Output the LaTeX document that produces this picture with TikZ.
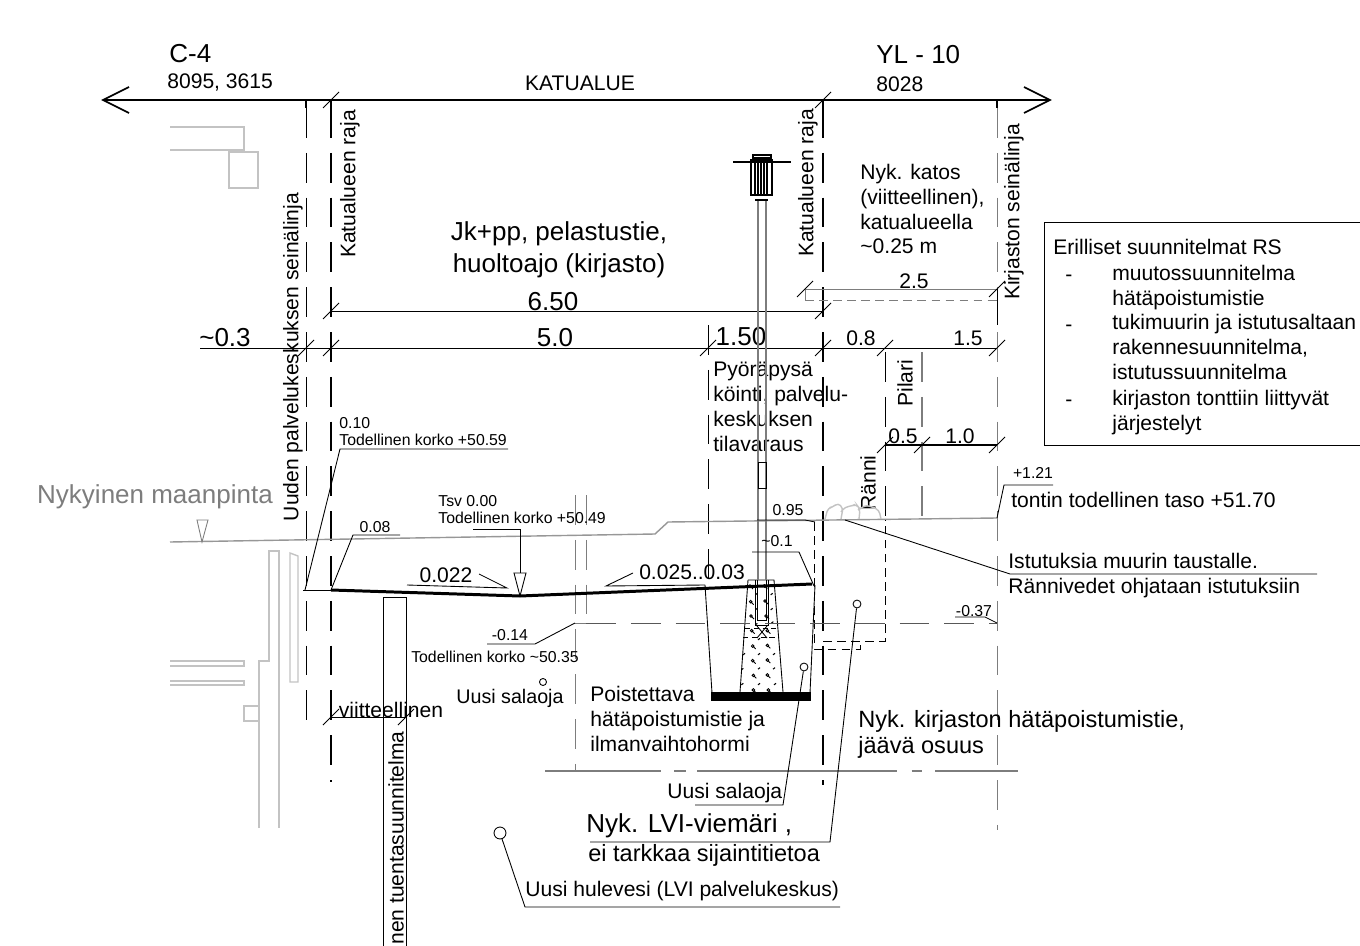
\documentclass[tikz,border=0pt]{standalone}
\usepackage{fontspec}
\setmainfont{Liberation Sans}
\definecolor{pale}{RGB}{195,195,195}
\definecolor{midgrey}{RGB}{125,125,125}
\tikzset{
	smalltxt/.style={inner sep=0pt, font=\fontsize{9}{10}\selectfont},
	medtxt/.style={inner sep=0pt, align=left, font=\fontsize{12}{14.2}\selectfont},
	bigtxt/.style={inner sep=0pt, align=left, font=\fontsize{14.8}{18.2}\selectfont},
	laneline/.style={line width=1.1pt, dash pattern=on 17pt off 8.5pt},
	wallline/.style={line width=0.55pt, dash pattern=on 17pt off 8.5pt},
	hidden/.style={line width=0.5pt, dash pattern=on 5pt off 3pt},
	dimline/.style={line width=0.5pt},
	ticks/.style={line width=0.5pt},
	ghost/.style={line width=0.8pt, draw=pale},
	ringnode/.style={circle, draw, fill=white, line width=0.5pt, inner sep=0pt}
}
\begin{document}
\begin{tikzpicture}[x=0.02cm, y=-0.02cm]
	\useasboundingbox (0,0) rectangle (1360,946);

	% old structures, left side
	\draw[ghost] (170,127) -- (244,127) -- (244,150) -- (170,150);
	\draw[ghost] (229,152) rectangle (258,188);
	\draw[ghost] (259,828) -- (259,661) -- (269,661) -- (269,551) -- (279,551) -- (279,828);
	\draw[ghost] (290,553) -- (298,556) -- (298,682) -- (290,682) -- cycle;
	\draw[ghost] (170,661) -- (244,661) -- (244,666) -- (170,666);
	\draw[ghost] (170,681) -- (244,681) -- (244,685) -- (170,685);
	\draw[ghost] (244,706) rectangle (259,721);

	% verticals
	\draw[wallline] (306,108) -- (306,735);
	\draw[wallline, draw=midgrey] (997,108) -- (997,830);
	\draw[laneline] (331,108) -- (331,782);
	\draw[laneline] (823,108) -- (823,785);
	\foreach \x in {306,331,823,997} \draw[line width=0.6pt] (\x,100) -- (\x,108);
	\draw[wallline, draw=midgrey] (575,495) -- (575,771);
	\draw[wallline, draw=midgrey] (586,495) -- (586,623);
	\draw[wallline] (708,325) -- (708,590);
	\draw[wallline] (885,352) -- (885,520);
	\draw[wallline, line width=0.8pt, draw=midgrey] (922,352) -- (922,520);

	% street line on top
	\draw[line width=1.2pt] (103,100) -- (1050,100);
	\draw[line width=1pt] (129,87) -- (103,100) -- (129,113);
	\draw[line width=1pt] (1024,87) -- (1050,100) -- (1024,113);
	\foreach \x in {331,823} \draw[ticks] (\x,100) ++(-8,8) -- ++(16,-16);

	\node[bigtxt, anchor=west] at (169,54) (cfour) {C-4};
	\node[medtxt, anchor=west] at (167,82) (cnum) {8095, 3615};
	\node[medtxt] at (580,83) (street) {KATUALUE};
	\node[bigtxt, anchor=west] at (876,55) (yl) {YL - 10};
	\node[medtxt, anchor=west] at (876,84) (ylnum) {8028};

	% dimensions
	\draw[dimline] (331,311) -- (823,311);
	\foreach \x in {331,823} \draw[ticks] (\x,311) ++(-8,8) -- ++(16,-16);
	\draw[dimline] (200,348) -- (997,348);
	\foreach \x in {306,331,708,823,885,997} \draw[ticks] (\x,348) ++(-8,8) -- ++(16,-16);
	\draw[dimline, midgrey] (805,300) -- (805,289) -- (997,289);
	\draw[hidden, midgrey] (805,300) -- (997,300);
	\draw[dimline] (997,289) -- (997,325);
	\foreach \x in {805,997} \draw[ticks] (\x,289) ++(-8,8) -- ++(16,-16);
	\draw[line width=0.6pt] (885,445) -- (997,445);
	\foreach \x in {885,922,997} \draw[ticks] (\x,445) ++(-8,8) -- ++(16,-16);
	\draw[dimline] (331,717) -- (406,717);
	\foreach \x in {331,406} \draw[ticks] (\x,717) ++(-8,8) -- ++(16,-16);

	\node[bigtxt] at (553,302) (dfull) {6.50};
	\node[bigtxt] at (225,338) (dwall) {\textasciitilde 0.3};
	\node[bigtxt] at (555,338) (dlane) {5.0};
	\node[bigtxt] at (741,337) (dbike) {1.50};
	\node[medtxt] at (861,338) (dpil) {0.8};
	\node[medtxt] at (968,338) (dlib) {1.5};
	\node[medtxt] at (914,281) (droof) {2.5};
	\node[medtxt] at (903,436) (dgut) {0.5};
	\node[medtxt] at (960,436) (dplant) {1.0};
	\node[medtxt] at (391,710) (dguess) {viitteellinen};

	% rotated labels
	\node[medtxt, rotate=90] at (293,357) (newwall) {Uuden palvelukeskuksen seinälinja};
	\node[medtxt, rotate=90] at (350,184) (raja1) {Katualueen raja};
	\node[medtxt, rotate=90] at (808,183) (raja2) {Katualueen raja};
	\node[medtxt, rotate=90] at (1014,212) (libwall) {Kirjaston seinälinja};
	\node[medtxt, rotate=90] at (905,383) (pillar) {Pilari};
	\node[medtxt, rotate=90] at (868,483) (gutter) {Ränni};

	% area texts
	\node[bigtxt, align=center] at (559,250) (route) {Jk+pp, pelastustie,\\huoltoajo (kirjasto)};
	\node[medtxt, anchor=west] at (860,209) (canopy) {Nyk. katos\\(viitteellinen),\\katualueella\\\textasciitilde 0.25 m};
	\node[medtxt, anchor=west] at (713,407) (bikes) {Pyöräpysä\\köinti, palvelu-\\keskuksen\\tilavaraus};

	% note box
	\draw[dimline] (1360,222) -- (1044,222) -- (1044,445) -- (1360,445);
	\node[medtxt, anchor=west] at (1053,247) (note) {Erilliset suunnitelmat RS};
	\node[medtxt, anchor=west] at (1112,288) (note1) {muutossuunnitelma\\hätäpoistumistie};
	\node[medtxt, anchor=west] at (1112,347) (note2) {tukimuurin ja istutusaltaan\\rakennesuunnitelma,\\istutussuunnitelma};
	\node[medtxt, anchor=west] at (1112,413) (note3) {kirjaston tonttiin liittyvät\\järjestelyt};
	\foreach \y in {278,328,403} \node[medtxt] at (1069,\y) {-};

	% ground
	\draw[line width=0.8pt, draw=midgrey!80] (170,542) -- (655,534) -- (668,522) -- (997,518);
	\node[bigtxt, midgrey] at (155,497) (ground) {Nykyinen maanpinta};
	\draw[line width=0.5pt, draw=midgrey] (197,520) -- (208,520) -- (202,542) -- cycle;
	\draw[ghost, rounded corners=2pt] (825,519) -- (828,508) -- (833,507) -- (838,503) -- (843,508) -- (841,519);
	\draw[ghost, rounded corners=2pt] (841,512) -- (845,507) -- (852,506) -- (856,504) -- (860,509) -- (859,519);
	\draw[ghost, rounded corners=2pt] (858,510) -- (866,505) -- (872,507) -- (879,510) -- (881,519);

	% road surface
	\draw[line width=0.5pt] (303,590) -- (331,590);
	\draw[line width=1.7pt] (331,590) -- (520,596) -- (812,584);

	% trench and foundation
	\draw[line width=0.5pt] (705,585) -- (712,693);
	\draw[line width=0.5pt] (815,585) -- (810,693);
	\fill (711,692) rectangle (811,701);
	\draw[line width=0.5pt] (748,580) -- (774,580) -- (783,692);
	\draw[line width=0.5pt] (748,580) -- (740,692);
	\draw[line width=0.4pt, dash pattern=on 3pt off 2pt] (745,628) -- (776,628);
	\draw[line width=0.4pt, dash pattern=on 3pt off 2pt] (743,637) -- (778,637);
	\foreach \zx/\zy in {60/48,103/48,62/95,105/93,63/138,108/138,65/182,112/182,68/228,112/226,68/272,112/270,70/316,112/315,70/360,115/360}
		\draw[line width=0.5pt] ({730+\zx/3},{570+\zy/3}) circle (1.3) ++(1,1) -- ++(2,2);
	\foreach \zx/\zy in {82/70,128/70,82/115,128/115,82/160,130/155,90/205,45/250,90/250,135/250,40/295,90/293,135/293,40/340,90/340,138/340}
		\draw[line width=0.6pt] ({730+\zx/3},{570+\zy/3}) -- ++(-2,1.5);

	% pole and lamp
	\draw[line width=0.7pt, draw=midgrey] (758,200) -- (758,580);
	\draw[line width=0.7pt, draw=midgrey] (766,200) -- (766,580);
	\draw[line width=0.5pt] (755,580) -- (755,625) -- (768,625) -- (768,580);
	\draw[line width=0.5pt] (757,580) -- (757,620) -- (766,620) -- (766,580);
	\draw[line width=0.5pt] (757,626) -- (767,638) (767,626) -- (757,638);
	\draw[line width=0.5pt] (758,462) rectangle (766,488);
	\draw[line width=1.3pt] (733,162) -- (791,162);
	\draw[line width=0.8pt] (753,155) rectangle (771,158);
	\foreach \x in {755,758,761,764,767} \draw[line width=1.1pt] (\x,160) -- (\x,194);
	\draw[line width=0.7pt] (751,160) rectangle (772,195);
	\draw[line width=1pt] (755,200) -- (768,200);

	% old building lines
	\draw[hidden] (814,522) -- (814,649) -- (860,649) -- (860,641);
	\draw[hidden] (823,641) -- (885,641) -- (885,520);
	\draw[wallline, line width=0.5pt, draw=midgrey!70!black] (586,623) -- (997,623);
	\draw[line width=0.5pt, draw=midgrey] (575,623) -- (586,623);
	\draw[line width=0.6pt, draw=midgrey, dash pattern=on 66.3pt off 7.4pt on 6.8pt off 6.2pt on 113.4pt off 8.5pt on 5.7pt off 7.9pt on 47pt off 10pt] (545,771) -- (1020,771);

	% tuenta
	\draw[line width=0.5pt] (383,946) -- (383,597) -- (406,597) -- (406,946);
	\node[medtxt, rotate=90, anchor=west] at (396,945) (shoring) {nen tuentasuunnitelma};

	% level leaders
	\node[smalltxt, anchor=west] at (339,423) (h010) {0.10};
	\node[smalltxt, anchor=west] at (339,440) (h010b) {Todellinen korko +50.59};
	\draw[line width=0.5pt] (305,590) -- (340,449) -- (508,449);
	\node[smalltxt] at (375,527) (h008) {0.08};
	\draw[line width=0.5pt] (331,590) -- (353,535) -- (400,535);
	\node[smalltxt, anchor=west] at (438,501) (tsv) {Tsv 0.00};
	\node[smalltxt, anchor=west] at (438,518) (tsvb) {Todellinen korko +50.49};
	\draw[line width=0.5pt] (473,529) -- (520,529) -- (520,573);
	\draw[line width=0.5pt] (514,573) -- (526,573) -- (520,596) -- cycle;
	\node[medtxt] at (446,575) (s022) {0.022};
	\draw[line width=0.5pt] (407,585) -- (507,588) -- (479,574);
	\node[medtxt] at (692,572) (s025) {0.025..0.03};
	\draw[line width=0.5pt] (633,573) -- (606,586) -- (705,585);
	\node[smalltxt] at (510,635) (h014) {-0.14};
	\draw[line width=0.5pt] (487,644) -- (535,644) -- (575,623);
	\node[smalltxt] at (495,657) (h014b) {Todellinen korko \textasciitilde 50.35};
	\node[smalltxt] at (788,510) (h095) {0.95};
	\draw[line width=0.5pt] (757,520) -- (805,520) -- (815,522);
	\node[smalltxt] at (777,541) (h01) {\textasciitilde 0.1};
	\draw[line width=0.5pt] (752,552) -- (799,552) -- (814,586);
	\node[smalltxt] at (974,611) (h037) {-0.37};
	\draw[line width=0.5pt] (955,617) -- (985,617) -- (997,623);
	\node[smalltxt] at (1033,473) (h121) {+1.21};
	\draw[line width=0.5pt] (997,518) -- (1004,485) -- (1053,485);
	\node[medtxt, anchor=west] at (1011,500) (plot) {tontin todellinen taso +51.70};
	\node[medtxt, anchor=west] at (1008,576) (plants) {Istutuksia muurin taustalle.\\Rännivedet ohjataan istutuksiin};
	\draw[line width=0.5pt] (845,520) -- (1010,574) -- (1317,574);

	% pipes
	\node[ringnode, minimum size=4pt] at (543,682) (drainl) {};
	\node[medtxt, anchor=west, font=\fontsize{11.2}{14}\selectfont] at (456,698) (drainltxt) {Uusi salaoja};
	\node[medtxt, anchor=west] at (590,719) (shaft) {Poistettava\\hätäpoistumistie ja\\ilmanvaihtohormi};
	\node[bigtxt, anchor=west, font=\fontsize{13.4}{14.8}\selectfont] at (858,734) (exit) {Nyk. kirjaston hätäpoistumistie,\\jäävä osuus};
	\node[ringnode, minimum size=4.5pt] at (804,667) (drainr) {};
	\draw[line width=0.5pt] (drainr) -- (783,805) -- (695,805);
	\node[medtxt, anchor=west] at (667,793) (drainrtxt) {Uusi salaoja};
	\node[ringnode, minimum size=4.5pt] at (857,604) (sewer) {};
	\draw[line width=0.5pt] (sewer) -- (830,842) -- (590,842);
	\node[bigtxt, anchor=west] at (586,826) (sewertxt) {Nyk. LVI-viemäri ,};
	\node[bigtxt, anchor=west, font=\fontsize{13.4}{16.4}\selectfont] at (588,855) (sewerpos) {ei tarkkaa sijaintitietoa};
	\node[ringnode, minimum size=6.8pt] at (500,833) (storm) {};
	\draw[line width=0.5pt] (storm) -- (525,907) -- (840,907);
	\node[medtxt, anchor=west] at (525,891) (stormtxt) {Uusi hulevesi (LVI palvelukeskus)};
\end{tikzpicture}
\end{document}
